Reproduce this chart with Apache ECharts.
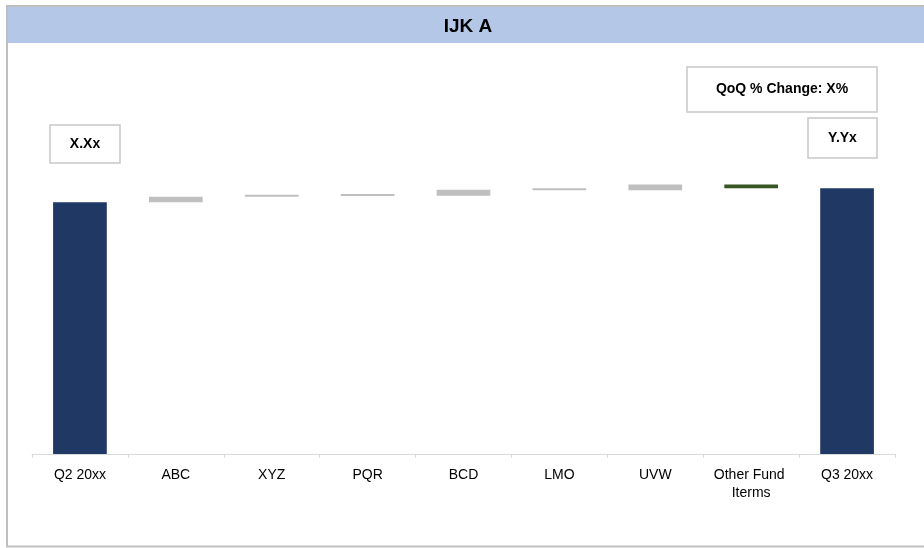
<!DOCTYPE html>
<html>
<head>
<meta charset="utf-8">
<script src="https://cdn.jsdelivr.net/npm/echarts@6/dist/echarts.min.js"></script>
<style>
  html, body { margin: 0; padding: 0; background: #ffffff; }
  #chart { width: 924px; height: 548px; }
</style>
</head>
<body>
<div id="chart"></div>
<script>
// Waterfall: opening total, per-driver changes, closing total
const chartTitle = 'IJK A';
const categories = ['Q2 20xx', 'ABC', 'XYZ', 'PQR', 'BCD', 'LMO', 'UVW', 'Other Fund Iterms', 'Q3 20xx'];
const openingTotal = 100;
const changes = [2.1, 0.3, 0.1, 2.4, -0.2, 2.3, -1.5];
const closingTotal = 105.5;
const openingLabel = 'X.Xx';
const closingLabel = 'Y.Yx';
const changeLabel = 'QoQ % Change: X%';

// Build invisible base + visible step values for a stacked waterfall
const baseValues = [0];
const stepValues = [openingTotal];
let running = openingTotal;
changes.forEach(function (c) {
  baseValues.push(Math.min(running, running + c));
  stepValues.push(Math.abs(c));
  running += c;
});
baseValues.push(0);
stepValues.push(closingTotal);

const NAVY = '#203864';
const GREY = '#BFBFBF';
const GREEN = '#375623';
const FONT = '"Liberation Sans", Arial, sans-serif';

function barColor(params) {
  if (params.dataIndex === 0 || params.dataIndex === categories.length - 1) return NAVY;
  if (params.name === 'Other Fund Iterms') return GREEN;
  return GREY;
}

function boxedLabel(text, x, y, w, h) {
  return {
    type: 'group',
    children: [
      { type: 'rect', shape: { x: x, y: y, width: w, height: h },
        style: { fill: '#ffffff', stroke: '#C8C8C8', lineWidth: 1.5 } },
      { type: 'text', x: x + w / 2, y: y + h / 2,
        style: { text: text, fill: '#000000', font: 'bold 14px ' + FONT,
                 textAlign: 'center', textVerticalAlign: 'middle' } }
    ]
  };
}

const chart = echarts.init(document.getElementById('chart'), null, { renderer: 'canvas' });
chart.setOption({
  animation: false,
  backgroundColor: '#ffffff',
  grid: { left: 32, right: 29, top: 114, bottom: 94, containLabel: false },
  xAxis: {
    type: 'category',
    data: categories,
    axisLine: { lineStyle: { color: '#D9D9D9', width: 1 } },
    axisTick: { show: true, length: 4, alignWithLabel: false, lineStyle: { color: '#D9D9D9' } },
    axisLabel: {
      interval: 0, color: '#000000', fontSize: 14, fontFamily: FONT,
      margin: 12, lineHeight: 18, width: 90, overflow: 'break'
    }
  },
  yAxis: { type: 'value', min: 0, max: 135, show: false, splitLine: { show: false } },
  series: [
    {
      name: 'base', type: 'bar', stack: 'wf', data: baseValues,
      itemStyle: { color: 'transparent' }, emphasis: { disabled: true },
      silent: true, barWidth: '56%'
    },
    {
      name: 'step', type: 'bar', stack: 'wf', data: stepValues,
      barWidth: '56%', barMinHeight: 2,
      itemStyle: { color: barColor }
    }
  ],
  graphic: [
    // outer frame
    { type: 'rect', z: -10, shape: { x: 7, y: 6, width: 940, height: 540.5 },
      style: { fill: 'none', stroke: '#BFBFBF', lineWidth: 2 } },
    // title band
    { type: 'rect', z: -9, shape: { x: 8, y: 7, width: 920, height: 36 },
      style: { fill: '#B4C7E7' } },
    { type: 'text', x: 468, y: 27,
      style: { text: chartTitle, fill: '#000000', font: 'bold 19px ' + FONT,
               textAlign: 'center', textVerticalAlign: 'middle' } },
    boxedLabel(changeLabel, 687, 67, 190, 45),
    boxedLabel(closingLabel, 808, 118, 69, 40),
    boxedLabel(openingLabel, 50, 125, 70, 38)
  ]
});
</script>
</body>
</html>
